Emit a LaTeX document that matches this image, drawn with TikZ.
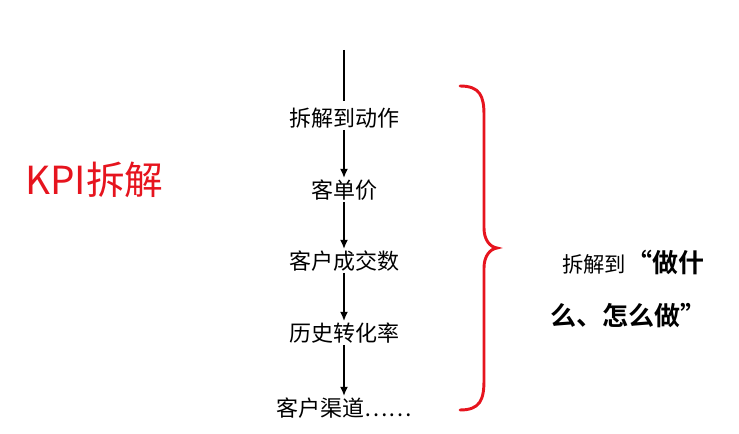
\documentclass[tikz,border=0pt]{standalone}
\usepackage{fontspec}
\setmainfont{Noto Sans CJK SC}
\newfontfamily\cjkbold{Noto Sans CJK SC Bold}
\usetikzlibrary{arrows.meta, positioning}
\definecolor{kpired}{RGB}{230, 20, 30}

\begin{document}
\begin{tikzpicture}[
    x=0.75pt, y=-0.75pt,
    stepbox/.style={inner sep=1pt, font=\fontsize{16.5}{18}\selectfont},
    arrow/.style={-{Latex[length=7pt,width=6pt]}, line width=1.5pt}
]
    \useasboundingbox (0,0) rectangle (739,434);
    % Chain of steps
    \coordinate (top) at (344,50);
    \node[stepbox] (act) at (344,118) {拆解到动作};
    \node[stepbox] (price) at (344,190) {客单价};
    \node[stepbox] (deals) at (344,261) {客户成交数};
    \node[stepbox] (rate) at (344,333) {历史转化率};
    \node[stepbox] (chan) at (344,408) {客户渠道……};

    \draw[line width=1.5pt] (top) -- ([yshift=4pt]act.north);
    \draw[arrow] (act) -- (price);
    \draw[arrow] (price) -- (deals);
    \draw[arrow] (deals) -- (rate);
    \draw[arrow] (rate) -- (chan);

    % Title
    \node[kpired, font=\fontsize{29}{31}\selectfont, anchor=west, inner sep=0pt] (title) at (25,180) {KPI拆解};

    % Brace
    \draw[kpired, line width=2.2pt, line cap=round]
        (460,86) .. controls (480,86) and (484,96) .. (484,115) -- (484,228)
        .. controls (484,240) and (490,247) .. (497,248)
        .. controls (490,249) and (484,256) .. (484,268) -- (484,380)
        .. controls (484,400) and (480,410) .. (460,410);

    % Right text
    \node[anchor=west, inner sep=0pt, font=\fontsize{16}{18}\selectfont] (what) at (562,262) {拆解到{\cjkbold\fontsize{19.5}{21}\selectfont “做什}};
    \node[anchor=west, inner sep=0pt, font=\cjkbold\fontsize{19.5}{21}\selectfont] (how) at (550,316) {么、怎么做”};
\end{tikzpicture}
\end{document}
